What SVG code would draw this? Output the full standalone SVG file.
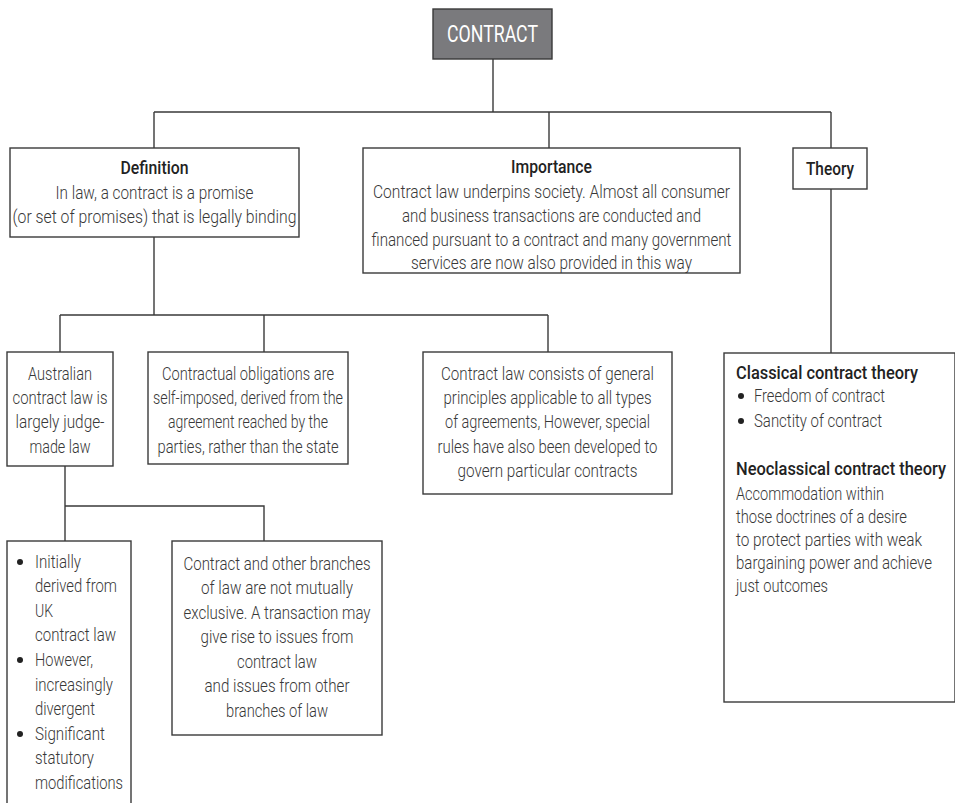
<svg xmlns="http://www.w3.org/2000/svg" width="955" height="803" viewBox="0 0 955 803">
<style>
.box{fill:#fff;stroke:#3a3a3a;stroke-width:1.4}
.t{font-family:Roboto,"Liberation Sans",sans-serif;font-size:19px;font-weight:300;fill:#383838}
.c{text-anchor:middle}
.b{font-weight:500;fill:#222}
.ln{fill:none;stroke:#3a3a3a;stroke-width:1.4}
.dot{fill:#222}
</style>
<rect width="955" height="803" fill="#fff"/>
<g id="connectors">
<path class="ln" d="M493 59V112M154 112H831M154 112V148M549 112V148M831 112V148"/>
<path class="ln" d="M831 189V353"/>
<path class="ln" d="M154 237V315M60 315H548M60 315V352M264 315V352M548 315V352"/>
<path class="ln" d="M65 466V506H264V541M65 506V541"/>
</g>
<g id="contract">
<rect x="433" y="9" width="119" height="50" fill="#7a7a7d" stroke="#3a3a3a" stroke-width="1.4"/>
<text class="t c" x="492.5" y="42" textLength="91" lengthAdjust="spacingAndGlyphs" style="font-size:23px;fill:#fff;font-weight:400">CONTRACT</text>
</g>
<g id="definition">
<rect class="box" x="10" y="148" width="289" height="89"/>
<text class="t c b" x="154.5" y="174" textLength="68" lengthAdjust="spacingAndGlyphs">Definition</text>
<text class="t c" x="154.5" y="199" textLength="198" lengthAdjust="spacingAndGlyphs">In law, a contract is a promise</text>
<text class="t c" x="154.5" y="223" textLength="284" lengthAdjust="spacingAndGlyphs">(or set of promises) that is legally binding</text>
</g>
<g id="importance">
<rect class="box" x="363" y="148" width="377" height="125"/>
<text class="t c b" x="551.5" y="173" textLength="81" lengthAdjust="spacingAndGlyphs">Importance</text>
<text class="t c" x="551.5" y="198" textLength="357" lengthAdjust="spacingAndGlyphs">Contract law underpins society. Almost all consumer</text>
<text class="t c" x="551.5" y="222" textLength="299" lengthAdjust="spacingAndGlyphs">and business transactions are conducted and</text>
<text class="t c" x="551.5" y="246" textLength="360" lengthAdjust="spacingAndGlyphs">financed pursuant to a contract and many government</text>
<text class="t c" x="551.5" y="269" textLength="281" lengthAdjust="spacingAndGlyphs">services are now also provided in this way</text>
</g>
<g id="theory">
<rect class="box" x="793" y="148" width="74" height="41"/>
<text class="t c b" x="830" y="175" textLength="48" lengthAdjust="spacingAndGlyphs">Theory</text>
</g>
<g id="theories">
<rect class="box" x="724" y="353" width="231" height="349"/>
<circle class="dot" cx="741" cy="396" r="3"/>
<circle class="dot" cx="741" cy="421" r="3"/>
<text class="t b" x="736" y="379" textLength="182" lengthAdjust="spacingAndGlyphs">Classical contract theory</text>
<text class="t" x="754" y="402" textLength="131" lengthAdjust="spacingAndGlyphs">Freedom of contract</text>
<text class="t" x="754" y="427" textLength="128" lengthAdjust="spacingAndGlyphs">Sanctity of contract</text>
<text class="t b" x="736" y="475" textLength="210" lengthAdjust="spacingAndGlyphs">Neoclassical contract theory</text>
<text class="t" x="736" y="500" textLength="148" lengthAdjust="spacingAndGlyphs">Accommodation within</text>
<text class="t" x="736" y="523" textLength="171" lengthAdjust="spacingAndGlyphs">those doctrines of a desire</text>
<text class="t" x="736" y="546" textLength="186" lengthAdjust="spacingAndGlyphs">to protect parties with weak</text>
<text class="t" x="736" y="569" textLength="196" lengthAdjust="spacingAndGlyphs">bargaining power and achieve</text>
<text class="t" x="736" y="592" textLength="92" lengthAdjust="spacingAndGlyphs">just outcomes</text>
</g>
<g id="australian">
<rect class="box" x="7" y="352" width="106" height="114"/>
<text class="t c" x="60" y="380" textLength="64" lengthAdjust="spacingAndGlyphs">Australian</text>
<text class="t c" x="60" y="404" textLength="95" lengthAdjust="spacingAndGlyphs">contract law is</text>
<text class="t c" x="60" y="428" textLength="89" lengthAdjust="spacingAndGlyphs">largely judge-</text>
<text class="t c" x="60" y="453" textLength="61" lengthAdjust="spacingAndGlyphs">made law</text>
</g>
<g id="obligations">
<rect class="box" x="148" y="352" width="200" height="112"/>
<text class="t c" x="248" y="380" textLength="172" lengthAdjust="spacingAndGlyphs">Contractual obligations are</text>
<text class="t c" x="248" y="404" textLength="190" lengthAdjust="spacingAndGlyphs">self-imposed, derived from the</text>
<text class="t c" x="248" y="428" textLength="160" lengthAdjust="spacingAndGlyphs">agreement reached by the</text>
<text class="t c" x="248" y="453" textLength="181" lengthAdjust="spacingAndGlyphs">parties, rather than the state</text>
</g>
<g id="general">
<rect class="box" x="423" y="352" width="249" height="142"/>
<text class="t c" x="547.5" y="380" textLength="213" lengthAdjust="spacingAndGlyphs">Contract law consists of general</text>
<text class="t c" x="547.5" y="404" textLength="208" lengthAdjust="spacingAndGlyphs">principles applicable to all types</text>
<text class="t c" x="547.5" y="428" textLength="205" lengthAdjust="spacingAndGlyphs">of agreements, However, special</text>
<text class="t c" x="547.5" y="453" textLength="220" lengthAdjust="spacingAndGlyphs">rules have also been developed to</text>
<text class="t c" x="547.5" y="477" textLength="180" lengthAdjust="spacingAndGlyphs">govern particular contracts</text>
</g>
<g id="origins">
<rect class="box" x="7" y="541" width="124" height="280"/>
<circle class="dot" cx="20" cy="562" r="3"/>
<circle class="dot" cx="20" cy="660" r="3"/>
<circle class="dot" cx="20" cy="734" r="3"/>
<text class="t" x="35" y="568" textLength="46" lengthAdjust="spacingAndGlyphs">Initially</text>
<text class="t" x="35" y="592" textLength="82" lengthAdjust="spacingAndGlyphs">derived from</text>
<text class="t" x="35" y="617" textLength="18" lengthAdjust="spacingAndGlyphs">UK</text>
<text class="t" x="35" y="641" textLength="81" lengthAdjust="spacingAndGlyphs">contract law</text>
<text class="t" x="35" y="666" textLength="58" lengthAdjust="spacingAndGlyphs">However,</text>
<text class="t" x="35" y="691" textLength="78" lengthAdjust="spacingAndGlyphs">increasingly</text>
<text class="t" x="35" y="715" textLength="60" lengthAdjust="spacingAndGlyphs">divergent</text>
<text class="t" x="35" y="740" textLength="70" lengthAdjust="spacingAndGlyphs">Significant</text>
<text class="t" x="35" y="764" textLength="59" lengthAdjust="spacingAndGlyphs">statutory</text>
<text class="t" x="35" y="789" textLength="88" lengthAdjust="spacingAndGlyphs">modifications</text>
</g>
<g id="branches">
<rect class="box" x="172" y="541" width="210" height="194"/>
<text class="t c" x="277" y="570" textLength="187" lengthAdjust="spacingAndGlyphs">Contract and other branches</text>
<text class="t c" x="277" y="594" textLength="152" lengthAdjust="spacingAndGlyphs">of law are not mutually</text>
<text class="t c" x="277" y="619" textLength="187" lengthAdjust="spacingAndGlyphs">exclusive. A transaction may</text>
<text class="t c" x="277" y="643" textLength="153" lengthAdjust="spacingAndGlyphs">give rise to issues from</text>
<text class="t c" x="277" y="668" textLength="80" lengthAdjust="spacingAndGlyphs">contract law</text>
<text class="t c" x="277" y="692" textLength="145" lengthAdjust="spacingAndGlyphs">and issues from other</text>
<text class="t c" x="277" y="717" textLength="102" lengthAdjust="spacingAndGlyphs">branches of law</text>
</g>
</svg>
